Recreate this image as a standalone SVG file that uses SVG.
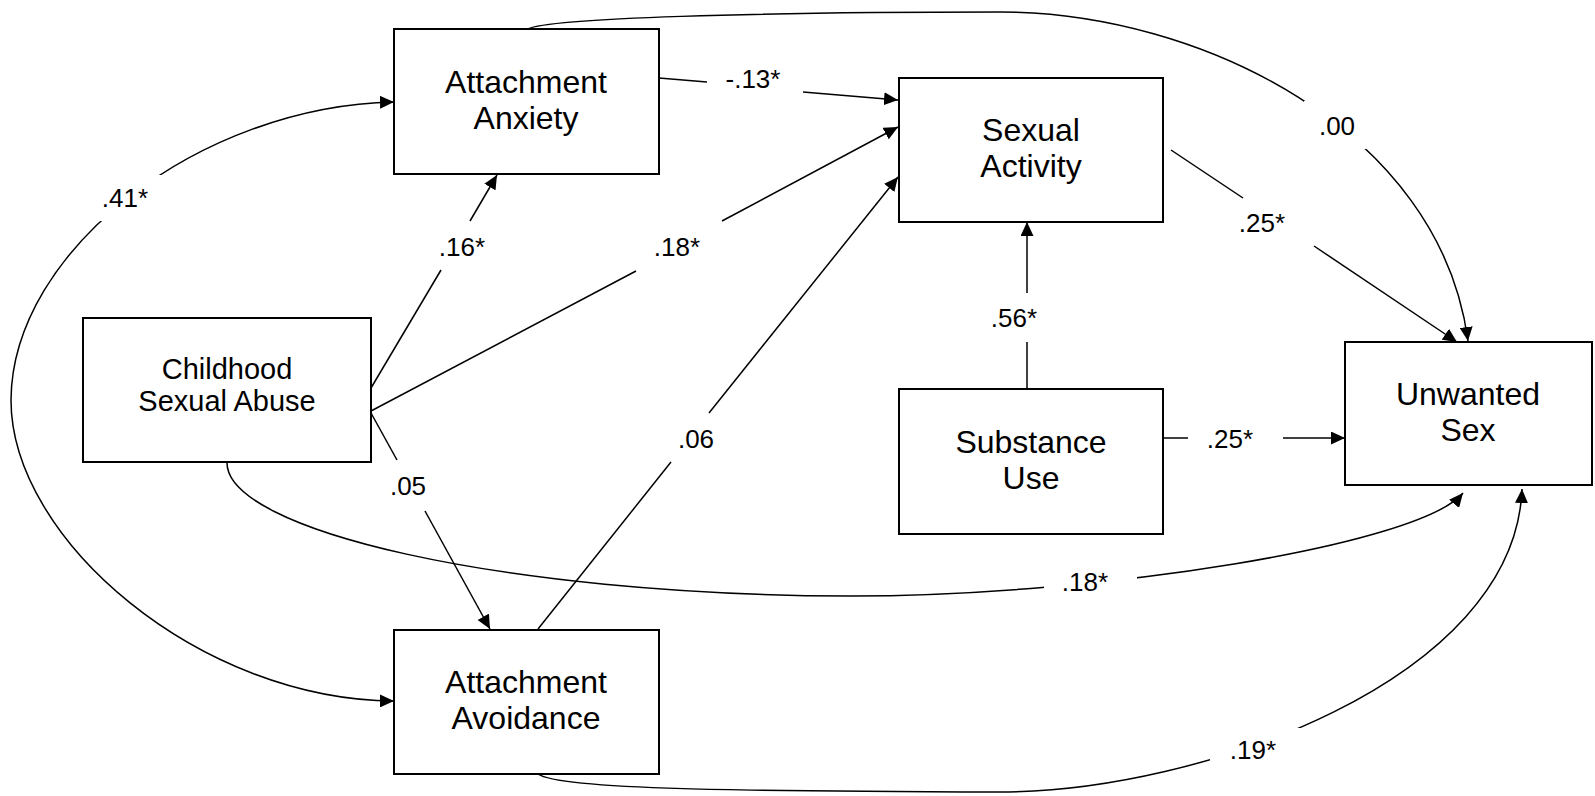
<svg xmlns="http://www.w3.org/2000/svg" width="1595" height="796" viewBox="0 0 1595 796">
  <style>
    .box { fill: #fff; stroke: #000; stroke-width: 2; }
    .node-text { font-family: "Liberation Sans", Arial, sans-serif; font-size: 32px; fill: #000; text-anchor: middle; }
    .node-text.small { font-size: 29px; }
    .edge { fill: none; stroke: #000; stroke-width: 1.5; }
    .lbl { font-family: "Liberation Sans", Arial, sans-serif; font-size: 26px; fill: #000; text-anchor: middle; }
  </style>
  <defs>
    <marker id="arrow" markerUnits="userSpaceOnUse" markerWidth="14" markerHeight="13" refX="14" refY="6.5" orient="auto-start-reverse">
      <path d="M0,0 L14,6.5 L0,13 z" fill="#000"/>
    </marker>
    <!-- gaps in the curved paths where their coefficients sit -->
    <mask id="labelGaps" maskUnits="userSpaceOnUse" x="0" y="0" width="1595" height="796">
      <rect x="0" y="0" width="1595" height="796" fill="#fff"/>
      <rect x="90" y="175" width="80" height="46" fill="#000"/>
      <rect x="1304" y="101" width="64" height="48" fill="#000"/>
      <rect x="1044" y="565" width="93" height="35" fill="#000"/>
      <rect x="1210" y="728" width="96" height="44" fill="#000"/>
    </mask>
  </defs>

  <rect width="1595" height="796" fill="#fff"/>

  <g id="connectors">
    <g mask="url(#labelGaps)">
      <!-- anxiety <-> avoidance covariance -->
      <path class="edge" d="M394,102 C200,106 12,250 11,400 C11,540 200,700 394,701" marker-start="url(#arrow)" marker-end="url(#arrow)"/>
      <!-- anxiety -> unwanted sex -->
      <path class="edge" d="M528,29 C548,18 760,12 1000,12 C1200,12 1440,130 1468,341" marker-end="url(#arrow)"/>
      <!-- abuse -> unwanted sex -->
      <path class="edge" d="M227,462 C225,530 500,595 850,596 C1100,596 1420,545 1463,493" marker-end="url(#arrow)"/>
      <!-- avoidance -> unwanted sex -->
      <path class="edge" d="M538,774 C560,790 750,791 1000,792 C1200,792 1515,680 1522,489" marker-end="url(#arrow)"/>
    </g>
    <!-- abuse -> anxiety -->
    <path class="edge" d="M371,388 L441,270"/>
    <path class="edge" d="M470,221 L497,175" marker-end="url(#arrow)"/>
    <!-- abuse -> sexual activity -->
    <path class="edge" d="M371,411 L636,271"/>
    <path class="edge" d="M722,221 L898,127" marker-end="url(#arrow)"/>
    <!-- anxiety -> sexual activity -->
    <path class="edge" d="M659,78 L707,82"/>
    <path class="edge" d="M803,92 L898,100" marker-end="url(#arrow)"/>
    <!-- avoidance -> sexual activity -->
    <path class="edge" d="M538,629 L671,462"/>
    <path class="edge" d="M709,413 L898,177" marker-end="url(#arrow)"/>
    <!-- abuse -> avoidance -->
    <path class="edge" d="M371,413 L397,460"/>
    <path class="edge" d="M425,511 L490,629" marker-end="url(#arrow)"/>
    <!-- substance use -> sexual activity -->
    <path class="edge" d="M1027,389 L1027,342"/>
    <path class="edge" d="M1027,293 L1027,222" marker-end="url(#arrow)"/>
    <!-- substance use -> unwanted sex -->
    <path class="edge" d="M1163,438 L1188,438"/>
    <path class="edge" d="M1283,438 L1345,438" marker-end="url(#arrow)"/>
    <!-- sexual activity -> unwanted sex -->
    <path class="edge" d="M1171,150 L1243,198"/>
    <path class="edge" d="M1314,246 L1457,342" marker-end="url(#arrow)"/>
  </g>

  <g id="labels">
    <text class="lbl" x="125" y="207">.41*</text>
    <text class="lbl" x="462" y="256">.16*</text>
    <text class="lbl" x="677" y="256">.18*</text>
    <text class="lbl" x="753" y="88">-.13*</text>
    <text class="lbl" x="1337" y="135">.00</text>
    <text class="lbl" x="1262" y="232">.25*</text>
    <text class="lbl" x="1014" y="327">.56*</text>
    <text class="lbl" x="1230" y="448">.25*</text>
    <text class="lbl" x="696" y="448">.06</text>
    <text class="lbl" x="408" y="495">.05</text>
    <text class="lbl" x="1085" y="591">.18*</text>
    <text class="lbl" x="1253" y="759">.19*</text>
  </g>

  <g id="attachment-anxiety">
    <rect class="box" x="394" y="29" width="265" height="145"/>
    <text class="node-text" x="526" y="93">Attachment</text>
    <text class="node-text" x="526" y="129">Anxiety</text>
  </g>

  <g id="childhood-sexual-abuse">
    <rect class="box" x="83" y="318" width="288" height="144"/>
    <text class="node-text small" x="227" y="379">Childhood</text>
    <text class="node-text small" x="227" y="411">Sexual Abuse</text>
  </g>

  <g id="attachment-avoidance">
    <rect class="box" x="394" y="630" width="265" height="144"/>
    <text class="node-text" x="526" y="693">Attachment</text>
    <text class="node-text" x="526" y="729">Avoidance</text>
  </g>

  <g id="sexual-activity">
    <rect class="box" x="899" y="78" width="264" height="144"/>
    <text class="node-text" x="1031" y="141">Sexual</text>
    <text class="node-text" x="1031" y="177">Activity</text>
  </g>

  <g id="substance-use">
    <rect class="box" x="899" y="389" width="264" height="145"/>
    <text class="node-text" x="1031" y="453">Substance</text>
    <text class="node-text" x="1031" y="489">Use</text>
  </g>

  <g id="unwanted-sex">
    <rect class="box" x="1345" y="342" width="247" height="143"/>
    <text class="node-text" x="1468" y="405">Unwanted</text>
    <text class="node-text" x="1468" y="441">Sex</text>
  </g>
</svg>
